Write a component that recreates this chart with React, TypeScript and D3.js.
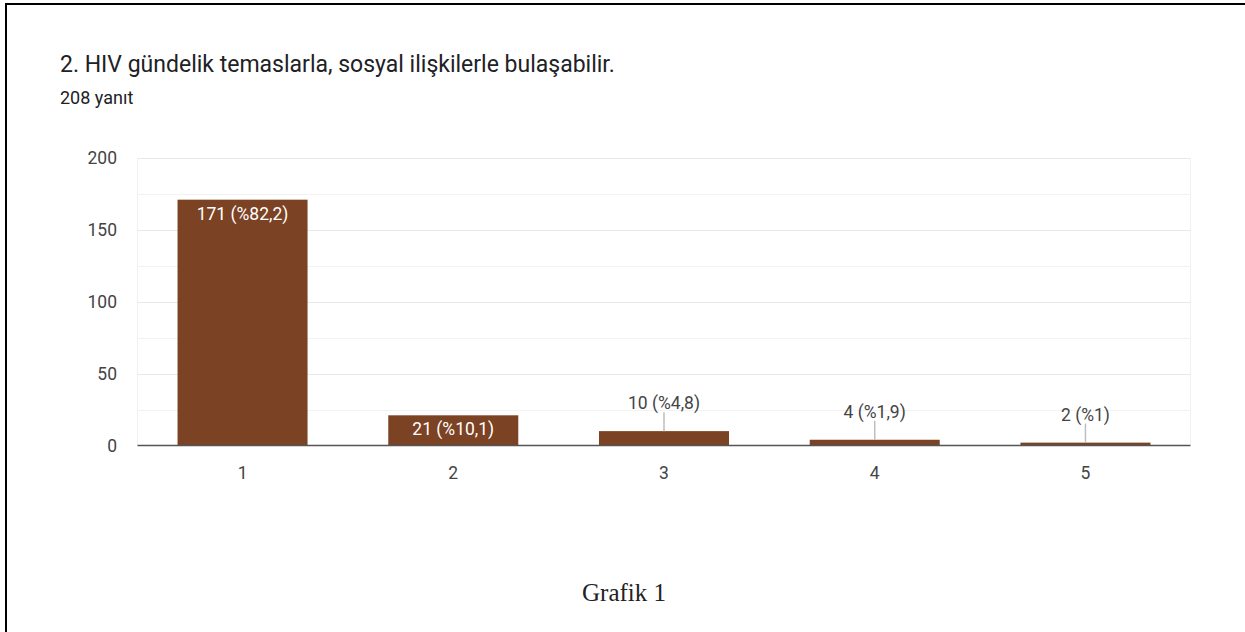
import React, { useEffect, useRef } from 'react';
import * as d3 from 'd3';

// chart data
const categories = ['1', '2', '3', '4', '5'];
const counts = [171, 21, 10, 4, 2];
const labels = ['171 (%82,2)', '21 (%10,1)', '10 (%4,8)', '4 (%1,9)', '2 (%1)'];
const yTicks = [0, 50, 100, 150, 200];
const gridTicks = [25, 50, 75, 100, 125, 150, 175, 200];

const title = '2. HIV gündelik temaslarla, sosyal ilişkilerle bulaşabilir.';
const subtitle = '208 yanıt';
const caption = 'Grafik 1';

const App = () => {
  const svgRef = useRef<SVGSVGElement | null>(null);

  useEffect(() => {
    const svg = d3.select(svgRef.current);
    svg.selectAll('*').remove();

    const W = 1245;
    const H = 632;
    const plot = { left: 137.5, right: 1190.5, top: 158, bottom: 445.5 };
    const font = 'Roboto, Arial, sans-serif';
    const labelSize = '17.5px';

    // page frame (left and top border only are visible)
    svg.append('line').attr('x1', 6).attr('x2', 6).attr('y1', 3).attr('y2', H)
      .attr('stroke', '#000').attr('stroke-width', 2);
    svg.append('line').attr('x1', 5).attr('x2', W).attr('y1', 4).attr('y2', 4)
      .attr('stroke', '#000').attr('stroke-width', 2);

    // headings
    svg.append('text').attr('x', 60).attr('y', 72)
      .style('font-family', font).style('font-size', '23px').style('fill', '#202124')
      .text(title);
    svg.append('text').attr('x', 60).attr('y', 104)
      .style('font-family', font).style('font-size', '18px').style('fill', '#202124')
      .text(subtitle);

    const x = d3.scaleBand<string>()
      .domain(categories)
      .range([plot.left, plot.right])
      .paddingInner(0.383)
      .paddingOuter(0.19);

    const y = d3.scaleLinear().domain([0, 200]).range([plot.bottom, plot.top]);

    // gridlines
    svg.append('g')
      .selectAll('line')
      .data(gridTicks)
      .enter()
      .append('line')
      .attr('x1', plot.left)
      .attr('x2', plot.right)
      .attr('y1', (d) => Math.round(y(d)) + 0.5)
      .attr('y2', (d) => Math.round(y(d)) + 0.5)
      .attr('stroke', (d) => (d % 50 === 0 ? '#e8e8e8' : '#f3f3f3'))
      .attr('stroke-width', 1);

    svg.append('line').attr('x1', plot.left).attr('x2', plot.left)
      .attr('y1', y(200)).attr('y2', plot.bottom).attr('stroke', '#f0f0f0');
    svg.append('line').attr('x1', plot.right).attr('x2', plot.right)
      .attr('y1', y(200)).attr('y2', plot.bottom).attr('stroke', '#f0f0f0');

    // y tick labels
    svg.append('g')
      .selectAll('text')
      .data(yTicks)
      .enter()
      .append('text')
      .attr('x', 117)
      .attr('y', (d) => y(d))
      .attr('dy', '0.35em')
      .attr('text-anchor', 'end')
      .style('font-family', font)
      .style('font-size', labelSize)
      .style('fill', '#444')
      .text((d) => d);

    // bars
    svg.append('g')
      .selectAll('rect')
      .data(counts)
      .enter()
      .append('rect')
      .attr('x', (d, i) => x(categories[i])!)
      .attr('y', (d) => y(d))
      .attr('width', x.bandwidth())
      .attr('height', (d) => plot.bottom - y(d))
      .attr('fill', '#7b4224');

    // baseline
    svg.append('line').attr('x1', plot.left).attr('x2', plot.right)
      .attr('y1', plot.bottom).attr('y2', plot.bottom)
      .attr('stroke', '#555').attr('stroke-width', 1.3);

    // x tick labels
    svg.append('g')
      .selectAll('text')
      .data(categories)
      .enter()
      .append('text')
      .attr('x', (d) => x(d)! + x.bandwidth() / 2)
      .attr('y', 473)
      .attr('dy', '0.35em')
      .attr('text-anchor', 'middle')
      .style('font-family', font)
      .style('font-size', labelSize)
      .style('fill', '#444')
      .text((d) => d);

    // value labels: inside tall bars, above short bars with a leader line
    counts.forEach((c, i) => {
      const cx = x(categories[i])! + x.bandwidth() / 2;
      const top = y(c);
      if (plot.bottom - top > 24) {
        svg.append('text')
          .attr('x', cx).attr('y', top + 14).attr('dy', '0.35em')
          .attr('text-anchor', 'middle')
          .style('font-family', font).style('font-size', labelSize).style('fill', '#fff')
          .text(labels[i]);
      } else {
        svg.append('line').attr('x1', cx).attr('x2', cx)
          .attr('y1', top).attr('y2', top - 19)
          .attr('stroke', '#bdbdbd').attr('stroke-width', 1.5);
        svg.append('text')
          .attr('x', cx).attr('y', top - 28).attr('dy', '0.35em')
          .attr('text-anchor', 'middle')
          .style('font-family', font).style('font-size', labelSize).style('fill', '#444')
          .text(labels[i]);
      }
    });

    // caption
    svg.append('text').attr('x', 624).attr('y', 601)
      .attr('text-anchor', 'middle')
      .style('font-family', '"Liberation Serif", "DejaVu Serif", serif')
      .style('font-size', '25px').style('fill', '#222')
      .text(caption);
  }, []);

  return (
    <svg
      ref={svgRef}
      width={1245}
      height={632}
      style={{ position: 'absolute', left: 0, top: 0, background: '#fff' }}
    />
  );
};

export default App;
